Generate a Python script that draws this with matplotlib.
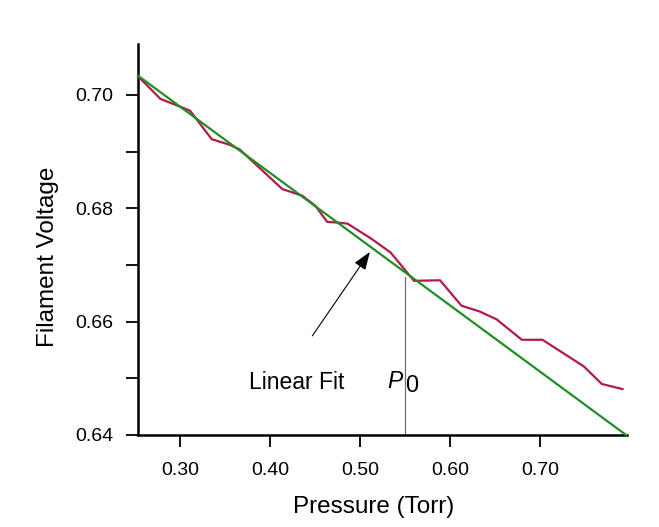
import matplotlib
matplotlib.use("Agg")
import matplotlib.pyplot as plt
from matplotlib.ticker import FixedLocator

plt.rcParams['font.family'] = ['Liberation Sans', 'DejaVu Sans']

# measured filament voltage vs pressure
pressure = [0.253, 0.278, 0.302, 0.311, 0.335, 0.355, 0.366, 0.4135, 0.436, 0.4505,
            0.4635, 0.473, 0.486, 0.512, 0.534, 0.545, 0.560, 0.589, 0.613, 0.633,
            0.652, 0.680, 0.703, 0.749, 0.769, 0.792]
voltage = [0.7033, 0.6993, 0.6978, 0.6972, 0.6922, 0.6912, 0.6904, 0.6834, 0.6822, 0.6804,
           0.6776, 0.6775, 0.6773, 0.6747, 0.6722, 0.6701, 0.6672, 0.6673, 0.6628, 0.6618,
           0.6604, 0.6568, 0.6568, 0.6521, 0.6490, 0.6481]

# linear fit end points
fit_x = [0.253, 0.796]
fit_y = [0.7034, 0.640]

p0 = 0.55
p0_top = 0.6678

x_ticks = [0.30, 0.40, 0.50, 0.60, 0.70]
x_labels = ['0.30', '0.40', '0.50', '0.60', '0.70']
y_ticks = [0.64, 0.66, 0.68, 0.70]
y_labels = ['0.64', '0.66', '0.68', '0.70']
y_minor = [0.65, 0.67, 0.69]

fig = plt.figure(figsize=(6.59, 5.27), dpi=100)
ax = fig.add_axes([0.2094, 0.1746, 0.742, 0.742])

ax.plot(pressure, voltage, color='#b01a4c', lw=1.6, zorder=3)
ax.plot(fit_x, fit_y, color='#1f8f24', lw=1.6, zorder=4, clip_on=False)
ax.plot([p0, p0], [0.64, p0_top], color='#707070', lw=0.9, zorder=2)

ax.annotate('', xy=(0.511, 0.6723), xytext=(0.447, 0.6575),
            arrowprops=dict(arrowstyle='-|>,head_length=1.1,head_width=0.4',
                            color='black', lw=0.8, shrinkA=0, shrinkB=0))
ax.text(0.429, 0.6492, 'Linear Fit', fontsize=16.5, ha='center', va='center')
ax.text(0.5478, 0.6494, 'P', fontsize=16.5, style='italic', ha='right', va='center')
ax.text(0.5503, 0.6487, '0', fontsize=17, ha='left', va='center')

ax.set_xlim(0.253, 0.797)
ax.set_ylim(0.64, 0.709)

ax.xaxis.set_major_locator(FixedLocator(x_ticks))
ax.set_xticklabels(x_labels)
ax.yaxis.set_major_locator(FixedLocator(y_ticks))
ax.set_yticklabels(y_labels)
ax.yaxis.set_minor_locator(FixedLocator(y_minor))

for side in ['top', 'right']:
    ax.spines[side].set_visible(False)
for side in ['left', 'bottom']:
    ax.spines[side].set_linewidth(1.8)

ax.tick_params(which='both', direction='out', width=1.3, labelsize=14, color='black')
ax.tick_params(axis='y', which='both', length=8.5, pad=9)
ax.tick_params(axis='x', which='major', length=8.5, pad=11)

ax.set_xlabel('Pressure (Torr)', fontsize=17.5)
ax.set_ylabel('Filament Voltage', fontsize=17.5)
ax.xaxis.set_label_coords(0.4826, -0.155)
ax.yaxis.set_label_coords(-0.162, 0.455)

fig.savefig('out.png', dpi=100)
